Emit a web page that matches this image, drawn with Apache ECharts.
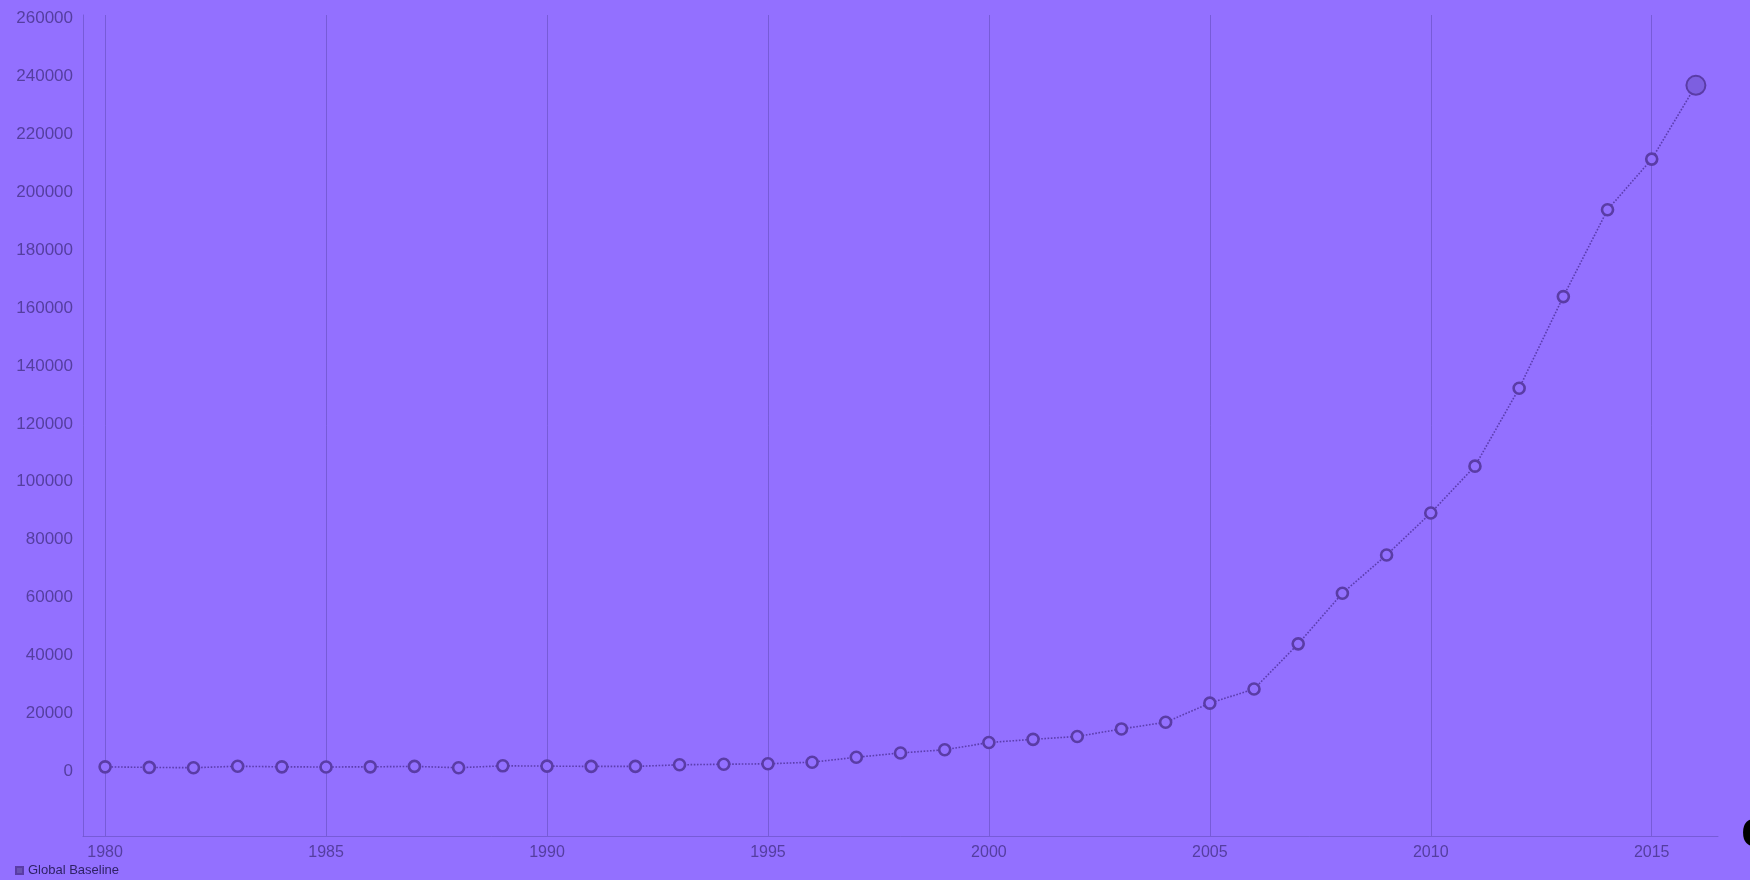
<!DOCTYPE html>
<html>
<head>
<meta charset="utf-8">
<script src="https://cdn.jsdelivr.net/npm/echarts@6/dist/echarts.min.js"></script>
<style>
  html, body { margin: 0; padding: 0; background: #9370ff; }
  #chart { width: 1750px; height: 880px; }
</style>
</head>
<body>
<div id="chart"></div>
<script>
const seriesName = 'Global Baseline';
const years = [1980, 1981, 1982, 1983, 1984, 1985, 1986, 1987, 1988, 1989,
               1990, 1991, 1992, 1993, 1994, 1995, 1996, 1997, 1998, 1999,
               2000, 2001, 2002, 2003, 2004, 2005, 2006, 2007, 2008, 2009,
               2010, 2011, 2012, 2013, 2014, 2015, 2016];
const values = [1500, 1300, 1200, 1700, 1500, 1450, 1500, 1650, 1200, 1850,
                1750, 1650, 1650, 2200, 2400, 2550, 3100, 4800, 6300, 7400,
                9900, 11000, 12000, 14600, 16900, 23500, 28400, 44000, 61500, 74700,
                89200, 105400, 132300, 164000, 194000, 211500, 237000];
const xTickLabels = [1980, 1985, 1990, 1995, 2000, 2005, 2010, 2015];
const yTickLabels = [0, 20000, 40000, 60000, 80000, 100000, 120000, 140000,
                     160000, 180000, 200000, 220000, 240000, 260000];

const bg = '#9370ff';
const markColor = '#5a3ca6';
const gridColor = 'rgba(100,76,190,0.6)';
const labelColor = '#553ea0';

const data = years.map((y, i) => {
  const pt = { value: [y, values[i]] };
  if (i === years.length - 1) {
    pt.symbolSize = 19;
    pt.itemStyle = {
      color: '#7d5fe0', borderColor: markColor, borderWidth: 2,
      decal: { symbol: 'rect', dashArrayX: [1, 0], dashArrayY: [2, 3], rotation: 0, color: 'rgba(90,60,170,0.6)' }
    };
  }
  return pt;
});

const chart = echarts.init(document.getElementById('chart'), null, { renderer: 'canvas' });
chart.setOption({
  backgroundColor: bg,
  animation: false,
  textStyle: { fontFamily: 'Liberation Sans, Arial, sans-serif' },
  grid: { left: 83, right: 32, top: 15, bottom: 44, containLabel: false },
  graphic: [{
    type: 'text',
    left: 1741,
    top: 806,
    style: { text: 'e', fontSize: 52, fontWeight: 'bold', fontFamily: 'Liberation Sans, Arial, sans-serif', fill: '#000' }
  }],
  legend: {
    left: 15, top: 864, padding: 0,
    icon: 'rect', itemWidth: 7, itemHeight: 7,
    data: [{ name: seriesName, itemStyle: { color: '#6a52b4' } }],
    textStyle: { fontSize: 13, color: '#2f2266', padding: [0, 0, 0, 0] }
  },
  xAxis: {
    type: 'value',
    min: 1979.5, max: 2016.5,
    axisLine: { show: true, onZero: false, lineStyle: { color: gridColor, width: 1 } },
    axisTick: { show: false, customValues: xTickLabels },
    axisLabel: { customValues: xTickLabels, color: labelColor, fontSize: 16, margin: 9, formatter: v => String(v) },
    splitLine: { show: true, lineStyle: { color: gridColor, width: 1 } }
  },
  yAxis: {
    type: 'value',
    min: -22400, max: 261300,
    axisLine: { show: true, onZero: false, lineStyle: { color: gridColor, width: 1 } },
    axisTick: { show: false, customValues: yTickLabels },
    axisLabel: { customValues: yTickLabels, color: labelColor, fontSize: 17, margin: 10, formatter: v => String(v) },
    splitLine: { show: false }
  },
  series: [{
    name: seriesName,
    type: 'line',
    data: data,
    symbol: 'circle',
    symbolSize: 11,
    itemStyle: { color: bg, borderColor: markColor, borderWidth: 2.6 },
    lineStyle: { color: 'rgba(85,55,165,0.9)', width: 1.6, type: 'dotted' }
  }]
});
</script>
</body>
</html>
